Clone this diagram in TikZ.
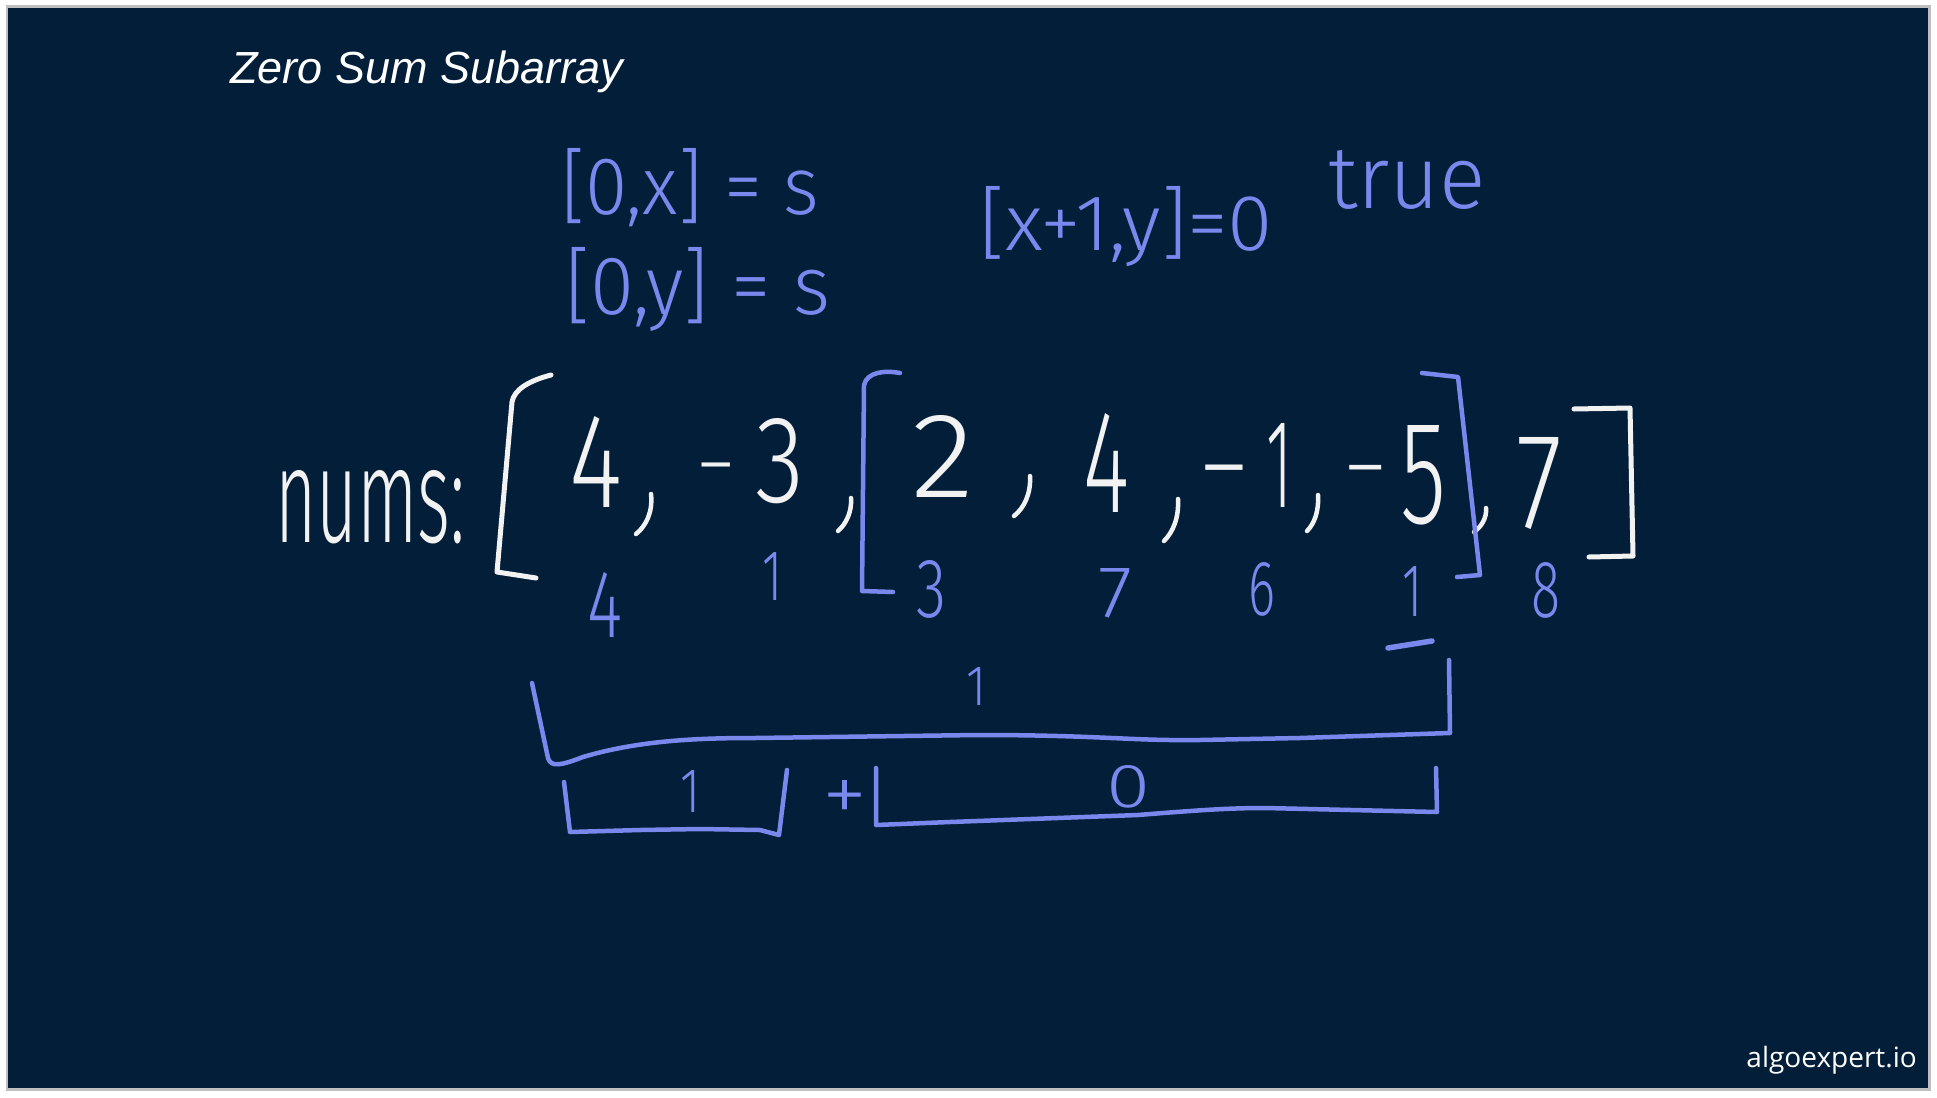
\documentclass[tikz,border=0pt]{standalone}
\usepackage{fontspec}
\usepackage{graphicx}
\IfFontExistsTF{Fira Sans Light}{\newfontfamily\hand{Fira Sans Light}}{\IfFontExistsTF{Lato Light}{\newfontfamily\hand{Lato Light}}{\newfontfamily\hand{Fira Sans}}}
\newfontfamily\titlefont{Liberation Sans}
\newfontfamily\logofont{Open Sans}
\definecolor{navy}{HTML}{021E39}
\definecolor{chalkblue}{HTML}{7A88EE}
\definecolor{chalkwhite}{HTML}{F2F2F2}
\newcommand\hwbox[3]{\resizebox{#1pt}{#2pt}{#3}}
\begin{document}
\begin{tikzpicture}[x=1pt,y=-1pt,
  hw/.style={inner sep=0pt,outer sep=0pt,anchor=north west,font=\hand},
  wink/.style={hw,text=chalkwhite},
  bink/.style={hw,text=chalkblue},
  minus/.style={inner sep=0pt,outer sep=0pt,anchor=north,text=chalkwhite,font=\hand\fontsize{#1}{#1}\selectfont},
  wline/.style={draw=chalkwhite,line width=5pt,line cap=round,line join=round},
  comma/.style={draw=chalkwhite,line width=4.5pt,line cap=round},
  bline/.style={draw=chalkblue,line width=4.5pt,line cap=round,line join=round}]
\useasboundingbox (0,0) rectangle (1937,1097);
\fill[white] (0,0) rectangle (1937,1097);
\draw[black!25,line width=3pt] (7,7) rectangle (1929,1089);
\fill[navy] (8,8) rectangle (1928,1088);

% title and logo
\node[inner sep=0pt,anchor=base west,text=white,font=\titlefont\itshape\fontsize{45}{45}\selectfont] (title) at (230,84) {Zero Sum Subarray};
\node[inner sep=0pt,anchor=base east,text=white,font=\logofont\fontsize{28}{28}\selectfont] (logo) at (1917,1067) {algoexpert.io};

% blue notes at top
\node[bink] (t1) at (561,148) {\hwbox{258}{66}{[0,x] = s}};
\node[bink] (t2) at (565,247) {\hwbox{265}{67}{[0,y] = s}};
\node[bink] (t3) at (979,186) {\hwbox{294}{64}{[x+1,y]=0}};
\node[bink] (t4) at (1328,150) {\hwbox{158}{58}{true}};

% nums row (white)
\node[wink] (lbl) at (275,470) {\hwbox{190}{72}{nums:}};
\node[wink] (a1) at (569,416) {\hwbox{53}{91}{4}};
\node[minus=80] (m2) at (716,463) {−};
\node[wink] (a2) at (755,418) {\hwbox{49}{84}{3}};
\node[wink] (a3) at (911,415) {\hwbox{63}{82}{2}};
\node[wink] (a4) at (1083,413) {\hwbox{46}{99}{4}};
\node[minus=105] (m5) at (1224,465) {−};
\node[wink] (a5) at (1266,423) {\hwbox{26}{84}{1}};
\node[minus=90] (m6) at (1366,465) {−};
\node[wink] (a6) at (1400,425) {\hwbox{46}{98}{5}};
\node[wink] (a7) at (1516,437) {\hwbox{46}{91}{7}};

% commas
\draw[comma] (651,494) .. controls (653,512) and (646,526) .. (636,534);
\draw[comma] (851,498) .. controls (852,512) and (846,524) .. (838,531);
\draw[comma] (1030,476) .. controls (1031,494) and (1024,508) .. (1014,516);
\draw[comma] (1178,499) .. controls (1179,518) and (1173,532) .. (1164,541);
\draw[comma] (1318,495) .. controls (1319,512) and (1314,524) .. (1307,531);
\draw[comma] (1486,508) .. controls (1487,518) and (1481,527) .. (1474,532);

% brackets of the array
\draw[wline] (551,375) .. controls (528,381) and (514,390) .. (512,402) -- (497,572) -- (536,578);
\draw[wline] (1574,409) -- (1630,408) -- (1633,556) -- (1589,557);
\draw[bline] (900,373) .. controls (885,370) and (867,372) .. (864,385) -- (862,591) -- (893,592);
\draw[bline] (1422,373) -- (1458,377) -- (1480,575) -- (1457,577);

% prefix sums (blue)
\node[bink] (p1) at (587,572) {\hwbox{35}{65}{4}};
\node[bink] (p2) at (762,552) {\hwbox{20}{48}{1}};
\node[bink] (p3) at (916,560) {\hwbox{30}{57}{3}};
\node[bink] (p4) at (1098,568) {\hwbox{34}{49}{7}};
\node[bink] (p5) at (1248,562) {\hwbox{27}{53}{6}};
\node[bink] (p6) at (1402,566) {\hwbox{20}{50}{1}};
\node[bink] (p7) at (1531,562) {\hwbox{29}{55}{8}};
\draw[bline,line width=5.5pt] (1388,648) -- (1432,641);

% lower brackets
\draw[bline] (532,683) -- (548,758) .. controls (551,768) and (562,765) .. (583,757)
  .. controls (640,740) and (700,738) .. (755,738) -- (978,735)
  .. controls (1100,735) and (1130,741) .. (1200,740) -- (1300,738) -- (1450,733) -- (1449,660);
\node[bink] (s1) at (966,667) {\hwbox{20}{38}{1}};

\draw[bline] (564,782) -- (570,832) -- (640,830) -- (700,829) -- (760,830) -- (779,835) -- (787,770);
\node[bink] (s2) at (680,770) {\hwbox{20}{42}{1}};
\node[bink] (pl) at (822,780) {\hwbox{45}{42}{+}};
\draw[bline] (876,768) -- (876,825) -- (950,822) -- (1138,815)
  .. controls (1200,810) and (1230,808) .. (1265,808) -- (1437,812) -- (1436,768);
\node[bink] (s3) at (1106,765) {\hwbox{44}{42}{0}};
\end{tikzpicture}
\end{document}
